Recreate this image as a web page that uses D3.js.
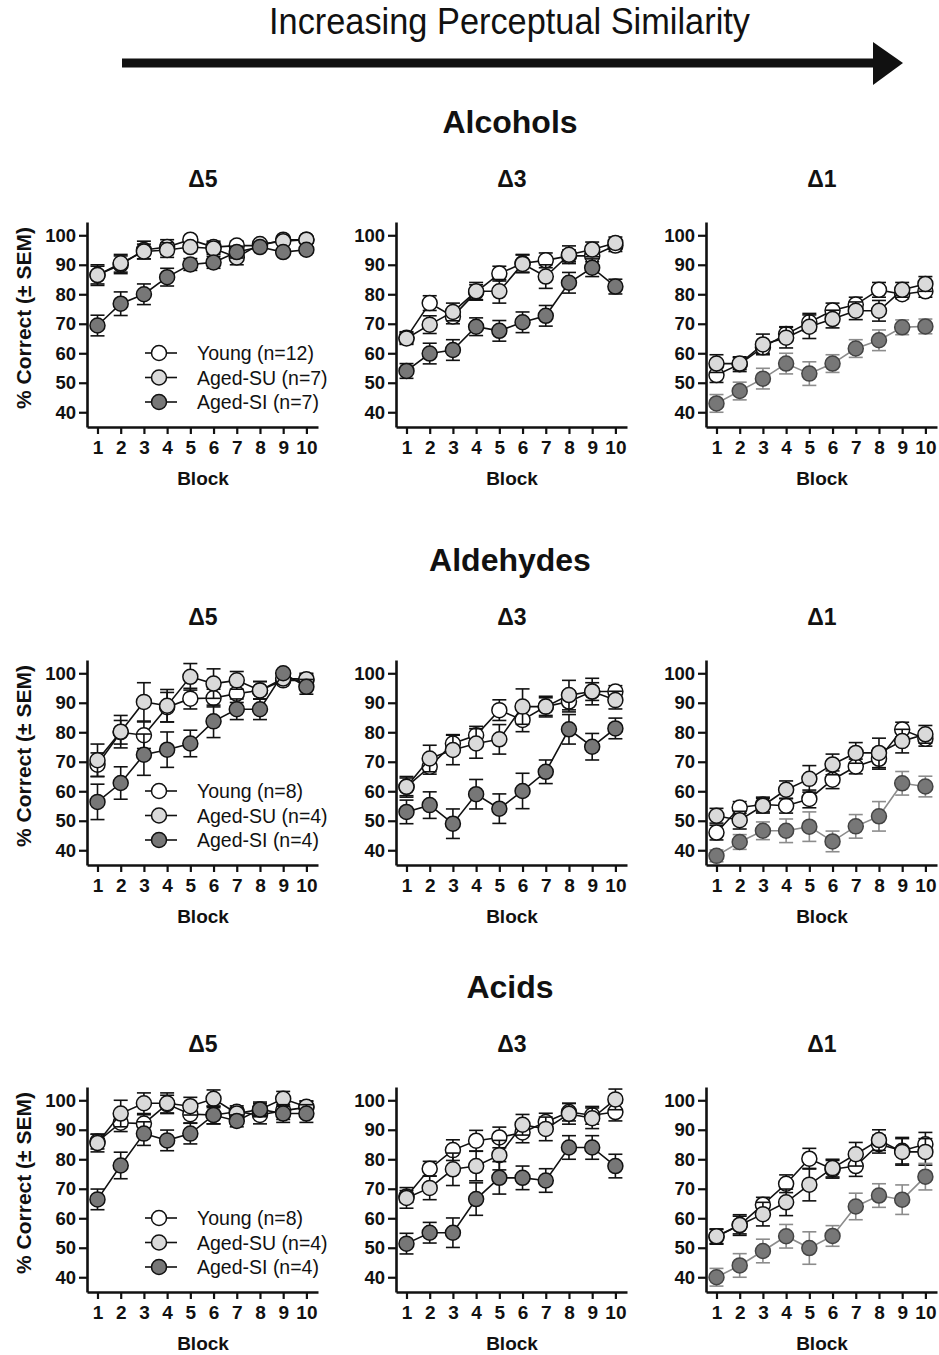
<!DOCTYPE html>
<html>
<head>
<meta charset="utf-8">
<script src="https://cdn.jsdelivr.net/npm/d3@7"></script>
<style>
  body { margin: 0; background: #fff; }
  text { font-family: "Liberation Sans", Arial, sans-serif; }
</style>
</head>
<body>
<script>
// blocks and panel labels
var blocks = [1, 2, 3, 4, 5, 6, 7, 8, 9, 10];
var deltaLabels = ["\u03945", "\u03943", "\u03941"];
var classNames = ["Alcohols", "Aldehydes", "Acids"];
var yTicks = [40, 50, 60, 70, 80, 90, 100];

var legendAlcohols = ["Young (n=12)", "Aged-SU (n=7)", "Aged-SI (n=7)"];
var legendAldehydes = ["Young (n=8)", "Aged-SU (n=4)", "Aged-SI (n=4)"];
var legendAcids = ["Young (n=8)", "Aged-SU (n=4)", "Aged-SI (n=4)"];

// each array: [delta5, delta3, delta1]
var alcoholsYoung = [
  [86.5, 90, 95, 96, 98.5, 96, 96.5, 96.5, 98.5, 98.5],
  [65.3, 77, 72.5, 80.7, 87, 90.5, 91.5, 93, 93, 96.5],
  [52.6, 56.3, 62, 66.5, 70.5, 74.5, 76.5, 81.5, 80, 81]
];
var alcoholsYoungSem = [
  [3.5, 3, 3, 2.5, 1, 2, 1.5, 1, 1, 1],
  [2, 2.5, 2.5, 2.5, 2.5, 3, 2.5, 2, 2, 2],
  [2.5, 2.5, 2, 2.5, 3, 2.5, 2.5, 2.5, 1.5, 2]
];
var alcoholsSU = [
  [86.5, 90.5, 94.5, 95, 96, 95.5, 92.5, 97, 98, 98.5],
  [65, 69.7, 74, 81, 81, 90.3, 86, 93.4, 95.2, 97.4],
  [56.5, 56.5, 63, 65.3, 69, 71.6, 74.4, 74.4, 81.5, 83.5]
];
var alcoholsSUSem = [
  [3, 3, 2.5, 2.5, 1.5, 2, 2.5, 1, 1, 1],
  [2, 3, 3, 3, 4, 3, 4, 3, 2.5, 2],
  [3, 2, 3.5, 3.5, 4, 3, 3, 3.5, 2.5, 2.5]
];
var alcoholsSI = [
  [69.4, 76.8, 80, 85.8, 90.1, 90.8, 94.3, 96, 94.3, 95.1],
  [54, 59.9, 61.1, 69, 67.6, 70.5, 72.7, 83.9, 89, 82.6],
  [43, 47.2, 51.4, 56.5, 53.1, 56.5, 61.6, 64.4, 68.8, 69.1]
];
var alcoholsSISem = [
  [3.5, 4, 3.5, 3, 2, 2, 2, 1, 1, 1],
  [2.5, 3.5, 3.5, 3, 3.5, 3.5, 3.5, 3.5, 3, 2.5],
  [3, 3, 3.5, 3.5, 4, 3, 3, 3.5, 2.5, 2.5]
];

var aldehydesYoung = [
  [69, 80, 79, 88.5, 91.4, 91.6, 93.1, 94.2, 97.6, 97.6],
  [61.5, 68.3, 76.2, 79, 87.5, 84.2, 88.7, 90.4, 93.8, 93.8],
  [46, 54.5, 55.5, 55.1, 57.4, 63.9, 68.4, 71, 80.9, 77.8]
];
var aldehydesYoungSem = [
  [4, 4, 4.5, 5, 3.5, 3, 3, 3, 1, 2],
  [3, 2.5, 3, 3, 3.5, 4, 3.5, 3.5, 3, 2],
  [2.5, 2, 2.5, 2.5, 3, 3, 2.5, 3.5, 2.5, 2.5]
];
var aldehydesSU = [
  [70.5, 80.2, 90.3, 89, 98.8, 96.5, 97.6, 94.2, 98.2, 98],
  [61.5, 71.1, 74, 76.2, 77.6, 88.7, 88.7, 92.6, 93.8, 90.9],
  [51.7, 50.2, 55.1, 60.5, 64.2, 69.1, 73, 73, 77, 79.3]
];
var aldehydesSUSem = [
  [5.5, 5.5, 6.5, 5.5, 4.5, 5, 3, 3, 1, 2],
  [3.5, 4.5, 5, 5, 5, 6, 3, 5, 4.5, 3],
  [2.5, 3, 2.5, 3, 4.5, 3.5, 3.5, 5, 4, 3]
];
var aldehydesSI = [
  [56.4, 62.8, 72.4, 74.1, 76.2, 83.7, 87.8, 87.8, 100, 95.4],
  [53, 55.3, 49, 59, 54.1, 60.1, 66.6, 81, 75.1, 81.3],
  [38.1, 42.8, 46.6, 46.6, 48, 43, 48.1, 51.5, 62.7, 61.6]
];
var aldehydesSISem = [
  [6, 5.5, 7, 6, 4.5, 5.5, 3.5, 3.5, 1, 2.5],
  [4, 4.5, 5, 5, 5, 6, 4, 5, 4.5, 3.5],
  [2, 2.5, 3, 4, 5, 3.5, 4, 5, 4, 3.5]
];

var acidsYoung = [
  [86, 92.4, 92.1, 98.7, 95.3, 95, 96.1, 95, 96.5, 97.6],
  [67.4, 76.8, 83.1, 86.3, 87.4, 89.1, 92.6, 96, 94.9, 96],
  [53.7, 57.7, 64.6, 71.7, 80.2, 76.6, 77.7, 85.1, 82.9, 85.1]
];
var acidsYoungSem = [
  [2.5, 3, 3, 3, 3, 3, 2, 3, 3, 2],
  [2, 2.5, 3.5, 3.5, 3.5, 3.5, 3, 3, 3, 3],
  [2.5, 3.5, 2.5, 3, 3.5, 3, 3.5, 3, 4.5, 4]
];
var acidsSU = [
  [85.5, 95.5, 99, 99, 98, 100.5, 95.5, 96.9, 100.5, 97.8],
  [66.9, 70.3, 76.6, 77.7, 81.4, 91.7, 90.3, 95.4, 93.9, 100.3],
  [53.9, 57.7, 61.4, 65.4, 71.4, 77, 81.7, 86.5, 82.5, 82.5]
];
var acidsSUSem = [
  [3, 4.5, 3.5, 3.5, 3, 3, 2, 2.5, 2.5, 2],
  [3.5, 4, 5.5, 5, 5, 3.5, 4, 3.5, 3.5, 3.5],
  [2.5, 3, 4, 4.5, 5.5, 3, 4, 3.5, 4.5, 4.5]
];
var acidsSI = [
  [66.4, 77.9, 88.7, 86.4, 88.7, 95, 93, 96.9, 95.5, 95.5],
  [51.4, 55.1, 55.1, 66.5, 73.7, 73.7, 72.8, 84, 84, 77.7],
  [40, 44, 48.9, 53.9, 49.9, 54, 64, 67.7, 66.3, 74.1]
];
var acidsSISem = [
  [3.5, 4.5, 4, 3.5, 3.5, 3, 2, 2, 3, 3],
  [3.5, 3.5, 5, 5.5, 5.5, 4, 4, 4, 4, 4],
  [3, 4, 4, 4, 5.5, 3.5, 4.5, 4, 5, 4.5]
];

var rows = [
  { name: classNames[0], legend: legendAlcohols,
    series: [[alcoholsYoung, alcoholsYoungSem], [alcoholsSU, alcoholsSUSem], [alcoholsSI, alcoholsSISem]] },
  { name: classNames[1], legend: legendAldehydes,
    series: [[aldehydesYoung, aldehydesYoungSem], [aldehydesSU, aldehydesSUSem], [aldehydesSI, aldehydesSISem]] },
  { name: classNames[2], legend: legendAcids,
    series: [[acidsYoung, acidsYoungSem], [acidsSU, acidsSUSem], [acidsSI, acidsSISem]] }
];

var fills = ["#ffffff", "#dadada", "#777777"];
var rowBottoms = [427, 865, 1292];
var panelLefts = [87, 396, 706];
var W = 939, H = 1355;

var svg = d3.select("body").append("svg").attr("width", W).attr("height", H);

// header arrow
svg.append("text")
  .attr("x", 269).attr("y", 34)
  .attr("textLength", 481).attr("lengthAdjust", "spacingAndGlyphs")
  .style("font-size", "37px").style("fill", "#111")
  .text("Increasing Perceptual Similarity");
svg.append("rect").attr("x", 122).attr("y", 58.5).attr("width", 756).attr("height", 9).attr("fill", "#111");
svg.append("path").attr("d", "M873,42 L903,63 L873,85 Z").attr("fill", "#111");

rows.forEach(function(row, r) {
  var bottom = rowBottoms[r];

  svg.append("text")
    .attr("x", 510).attr("y", bottom - 294)
    .attr("text-anchor", "middle")
    .style("font-size", "32px").style("font-weight", "bold").style("fill", "#111")
    .text(row.name);

  panelLefts.forEach(function(x0, c) {
    var x = d3.scaleLinear().domain([0.548, 10.5]).range([x0, x0 + 231]);
    var y = d3.scaleLinear().domain([35, 104.5]).range([bottom, bottom - 205]);
    var g = svg.append("g");

    g.append("text")
      .attr("x", x0 + 116).attr("y", bottom - 240)
      .attr("text-anchor", "middle")
      .style("font-size", "23px").style("font-weight", "bold").style("fill", "#111")
      .text(deltaLabels[c]);

    var yAxis = g.append("g")
      .attr("transform", "translate(" + x0 + ",0)")
      .call(d3.axisLeft(y).tickValues(yTicks).tickSize(8).tickSizeOuter(0).tickPadding(3));
    var xAxis = g.append("g")
      .attr("transform", "translate(0," + bottom + ")")
      .call(d3.axisBottom(x).tickValues(blocks).tickSize(7).tickSizeOuter(0).tickPadding(7));
    [yAxis, xAxis].forEach(function(a) {
      a.select(".domain").attr("stroke", "#111").attr("stroke-width", 2.6);
      a.selectAll(".tick line").attr("stroke", "#111").attr("stroke-width", 2.2);
      a.selectAll(".tick text").attr("fill", "#111")
        .style("font-size", "19px").style("font-weight", "bold")
        .style("font-family", "'Liberation Sans', Arial, sans-serif");
    });
    yAxis.selectAll(".tick text").style("font-size", "18.5px");

    g.append("text")
      .attr("x", x0 + 116).attr("y", bottom + 58)
      .attr("text-anchor", "middle")
      .style("font-size", "19px").style("font-weight", "bold").style("fill", "#111")
      .text("Block");

    if (c == 0) {
      g.append("text")
        .attr("transform", "translate(31," + (bottom - 109) + ") rotate(-90)")
        .attr("text-anchor", "middle")
        .style("font-size", "21px").style("font-weight", "bold").style("fill", "#111")
        .text("% Correct (\u00b1 SEM)");
    }

    row.series.forEach(function(s, k) {
      var means = s[0][c], sems = s[1][c];
      var pts = blocks.map(function(b, i) { return { b: b, m: means[i], e: sems[i] }; });
      var light = (c == 2 && k == 2);
      var lineCol = light ? "#8c8c8c" : "#111";
      var sg = g.append("g");

      var eb = sg.selectAll(".eb").data(pts).enter().append("g")
        .attr("stroke", lineCol).attr("stroke-width", 1.6);
      eb.append("line")
        .attr("x1", function(d) { return x(d.b); }).attr("x2", function(d) { return x(d.b); })
        .attr("y1", function(d) { return y(d.m - d.e); }).attr("y2", function(d) { return y(d.m + d.e); });
      eb.append("line")
        .attr("x1", function(d) { return x(d.b) - 7; }).attr("x2", function(d) { return x(d.b) + 7; })
        .attr("y1", function(d) { return y(d.m + d.e); }).attr("y2", function(d) { return y(d.m + d.e); });
      eb.append("line")
        .attr("x1", function(d) { return x(d.b) - 7; }).attr("x2", function(d) { return x(d.b) + 7; })
        .attr("y1", function(d) { return y(d.m - d.e); }).attr("y2", function(d) { return y(d.m - d.e); });

      sg.append("path").datum(pts)
        .attr("fill", "none").attr("stroke", lineCol).attr("stroke-width", 1.6)
        .attr("d", d3.line().x(function(d) { return x(d.b); }).y(function(d) { return y(d.m); }));

      sg.selectAll("circle").data(pts).enter().append("circle")
        .attr("cx", function(d) { return x(d.b); })
        .attr("cy", function(d) { return y(d.m); })
        .attr("r", 7.5)
        .attr("fill", fills[k])
        .attr("stroke", light ? "#444" : "#111").attr("stroke-width", 1.5);
    });

    if (c == 0) {
      var leg = g.append("g");
      row.legend.forEach(function(label, k) {
        var ly = bottom - 74 + k * 24.5;
        leg.append("line").attr("x1", 145).attr("x2", 177).attr("y1", ly).attr("y2", ly)
          .attr("stroke", "#111").attr("stroke-width", 1.6);
        leg.append("circle").attr("cx", 159).attr("cy", ly).attr("r", 7.5)
          .attr("fill", fills[k]).attr("stroke", "#111").attr("stroke-width", 1.5);
        leg.append("text").attr("x", 197).attr("y", ly).attr("dy", "0.36em")
          .style("font-size", "19.5px").style("fill", "#111")
          .text(label);
      });
    }
  });
});
</script>
</body>
</html>
